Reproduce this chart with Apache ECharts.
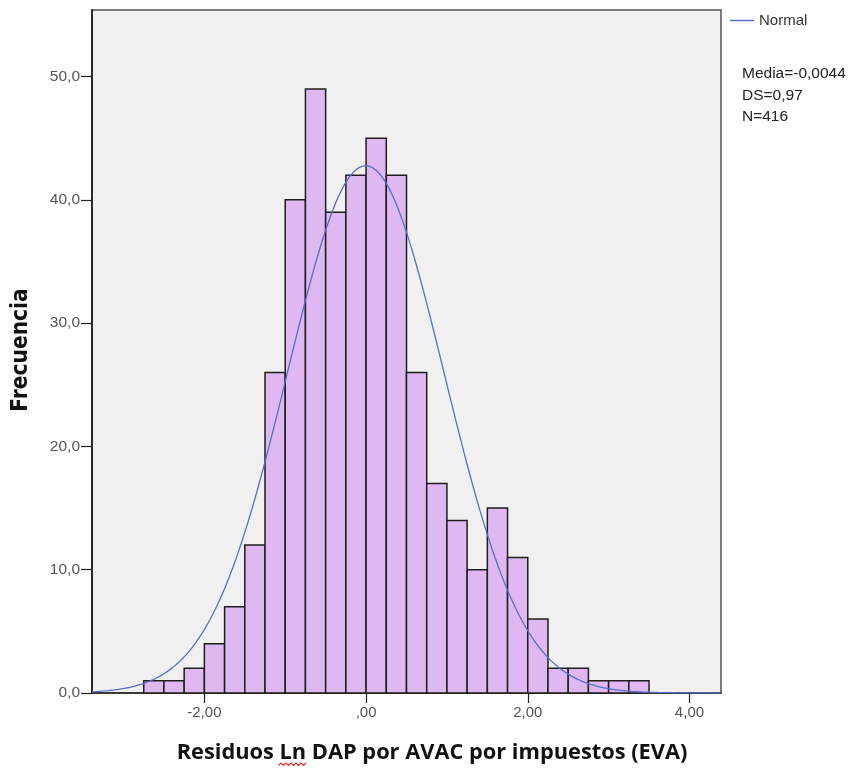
<!DOCTYPE html>
<html>
<head>
<meta charset="utf-8">
<script src="https://cdn.jsdelivr.net/npm/echarts@6/dist/echarts.min.js"></script>
<style>
  html, body { margin: 0; padding: 0; background: #ffffff; }
  #chart { width: 852px; height: 769px; }
</style>
</head>
<body>
<div id="chart"></div>
<script>
// Histogram bins (lower edge of each bin) and their counts
const binLowerEdges = [-2.75, -2.5, -2.25, -2.0, -1.75, -1.5, -1.25, -1.0, -0.75, -0.5, -0.25,
                       0.0, 0.25, 0.5, 0.75, 1.0, 1.25, 1.5, 1.75, 2.0, 2.25, 2.5, 2.75, 3.0, 3.25];
const binWidth = 0.25;
const frequencies = [1, 1, 2, 4, 7, 12, 26, 40, 49, 39, 42, 45, 42, 26, 17, 14, 10, 15, 11, 6, 2, 2, 1, 1, 1];

// Axis ticks and their labels
const xTickValues = [-2, 0, 2, 4];
const xTickLabels = ['-2,00', ',00', '2,00', '4,00'];
const yTickValues = [0, 10, 20, 30, 40, 50];
const yTickLabels = ['0,0', '10,0', '20,0', '30,0', '40,0', '50,0'];

// Fitted normal curve parameters
const normalMean = -0.0044;
const normalSD = 0.97;
const sampleN = 416;
const statLines = ['Media=-0,0044', 'DS=0,97', 'N=416'];

const xTitle = 'Residuos Ln DAP por AVAC por impuestos (EVA)';
const yTitle = 'Frecuencia';

const X_MIN = -3.39, X_MAX = 4.39, Y_MAX = 55.4;

// Normal density scaled to counts per bin
const peak = sampleN * binWidth / (normalSD * Math.sqrt(2 * Math.PI));
const curve = [];
for (let i = 0; i <= 389; i++) {
  const x = X_MIN + (X_MAX - X_MIN) * i / 389;
  const z = (x - normalMean) / normalSD;
  curve.push([x, peak * Math.exp(-0.5 * z * z)]);
}

const histData = binLowerEdges.map((lo, i) => [lo, lo + binWidth, frequencies[i]]);

const labelFont = "'Liberation Sans', Arial, sans-serif";
const xTitleFont = "bold 21.8px 'Open Sans', Lato, sans-serif";
const xTitleX = 432, xTitleY = 753;

// Wavy spell-check underline under "Ln" in the axis title
const measure = document.createElement('canvas').getContext('2d');
measure.font = xTitleFont;
const titleStart = xTitleX - measure.measureText(xTitle).width / 2;
const lnStart = titleStart + measure.measureText('Residuos ').width;
const lnWidth = measure.measureText('Ln').width;
const wave = [];
for (let i = 0; i <= Math.round(lnWidth / 2.5); i++) {
  wave.push([lnStart - 1 + i * 2.5, xTitleY + 10 + (i % 2 ? 0 : 2.5)]);
}

const chart = echarts.init(document.getElementById('chart'), null, { renderer: 'canvas' });
chart.setOption({
  animation: false,
  backgroundColor: '#ffffff',
  grid: {
    left: 92, top: 10, right: 131, bottom: 76,
    show: true, backgroundColor: '#f0f0f0', borderColor: '#555555', borderWidth: 1.5
  },
  legend: {
    data: [{ name: 'Normal', icon: 'rect' }],
    left: 730, top: 13, padding: 0,
    itemWidth: 24, itemHeight: 1.5,
    textStyle: { fontFamily: labelFont, fontSize: 15, color: '#333333' }
  },
  xAxis: {
    type: 'value', min: X_MIN, max: X_MAX,
    splitLine: { show: false },
    axisLine: { show: true, onZero: false, lineStyle: { color: '#222222', width: 1.5 } },
    axisTick: { show: true, length: 10, customValues: xTickValues, lineStyle: { color: '#222222', width: 1.2 } },
    axisLabel: {
      customValues: xTickValues, margin: 12,
      formatter: v => xTickLabels[xTickValues.indexOf(v)] ?? '',
      fontFamily: labelFont, fontSize: 15, color: '#555555'
    }
  },
  yAxis: {
    type: 'value', min: 0, max: Y_MAX,
    splitLine: { show: false },
    axisLine: { show: true, onZero: false, lineStyle: { color: '#222222', width: 1.8 } },
    axisTick: { show: true, length: 11, customValues: yTickValues, lineStyle: { color: '#222222', width: 1.2 } },
    axisLabel: {
      customValues: yTickValues, margin: 12,
      formatter: v => yTickLabels[yTickValues.indexOf(v)] ?? '',
      fontFamily: labelFont, fontSize: 15.5, color: '#555555'
    }
  },
  series: [
    {
      name: 'Frecuencia',
      type: 'custom',
      data: histData,
      encode: { x: [0, 1], y: 2 },
      z: 2,
      renderItem: (params, api) => {
        const p0 = api.coord([api.value(0), 0]);
        const p1 = api.coord([api.value(1), api.value(2)]);
        return {
          type: 'rect',
          shape: { x: p0[0], y: p1[1], width: p1[0] - p0[0], height: p0[1] - p1[1] },
          style: { fill: '#dfb8f2', stroke: '#1e1e1e', lineWidth: 1.5 }
        };
      }
    },
    {
      name: 'Normal',
      type: 'line',
      data: curve,
      showSymbol: false,
      symbol: 'none',
      smooth: false,
      z: 5,
      lineStyle: { color: '#5470c6', width: 1.3 },
      itemStyle: { color: '#5470c6' }
    }
  ],
  graphic: [
    {
      type: 'text', x: 742, y: 63,
      style: {
        text: statLines.join('\n'), font: "15.5px 'Liberation Sans', Arial, sans-serif",
        fill: '#222222', lineHeight: 21.5
      }
    },
    {
      type: 'text', x: xTitleX, y: xTitleY,
      style: {
        text: xTitle, font: xTitleFont,
        fill: '#111111', align: 'center', verticalAlign: 'middle'
      }
    },
    {
      type: 'polyline',
      shape: { points: wave },
      style: { stroke: '#e03030', lineWidth: 1.2, fill: null }
    },
    {
      type: 'text', x: 21, y: 350, rotation: Math.PI / 2,
      style: {
        text: yTitle, font: "bold 22.5px 'Liberation Sans Narrow', 'DejaVu Sans Condensed', Arial, sans-serif",
        fill: '#111111', align: 'center', verticalAlign: 'middle'
      }
    }
  ]
});
</script>
</body>
</html>
